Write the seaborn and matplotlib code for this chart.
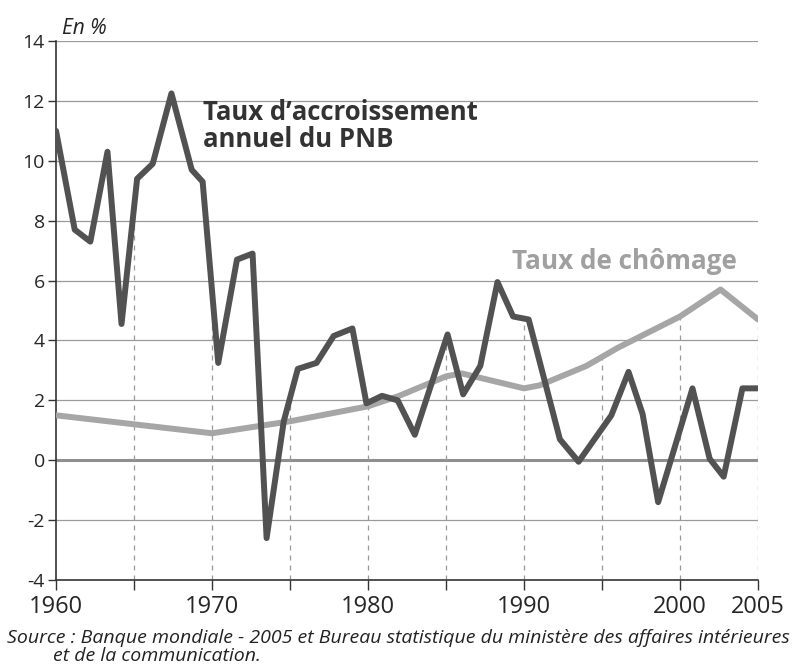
import numpy as np
import pandas as pd
import seaborn as sns
import matplotlib.pyplot as plt

# Taux d'accroissement annuel du PNB (en %)
pnb_years = [1960.0, 1961.2, 1962.2, 1963.3, 1964.2, 1965.2, 1966.2, 1967.4, 1968.7, 1969.4,
             1970.4, 1971.6, 1972.6, 1973.5, 1974.6, 1975.5, 1976.7, 1977.8, 1979.0, 1979.9,
             1980.9, 1981.9, 1983.0, 1985.1, 1986.1, 1987.2, 1988.3, 1989.3, 1990.3, 1992.3,
             1993.5, 1995.6, 1996.7, 1997.6, 1998.6, 2000.8, 2001.9, 2002.8, 2004.0, 2005.0]
pnb_values = [11.0, 7.7, 7.3, 10.3, 4.55, 9.4, 9.9, 12.25, 9.7, 9.3,
              3.25, 6.7, 6.9, -2.6, 1.3, 3.05, 3.25, 4.15, 4.4, 1.9,
              2.15, 2.0, 0.85, 4.2, 2.2, 3.15, 5.95, 4.8, 4.7, 0.7,
              -0.05, 1.5, 2.95, 1.55, -1.4, 2.4, 0.05, -0.55, 2.4, 2.4]

# Taux de chômage (en %)
chom_years = [1960, 1965, 1970, 1975, 1980, 1982, 1985, 1986, 1990, 1991,
              1994, 1996, 2000, 2002.6, 2005]
chom_values = [1.5, 1.2, 0.9, 1.3, 1.8, 2.15, 2.8, 2.9, 2.4, 2.5,
               3.15, 3.75, 4.8, 5.7, 4.7]

x_labels = ['1960', '1970', '1980', '1990', '2000', '2005']
y_labels = ['-4', '-2', '0', '2', '4', '6', '8', '10', '12', '14']

pnb = pd.DataFrame({'Année': pnb_years, 'Taux': pnb_values})
chom = pd.DataFrame({'Année': chom_years, 'Taux': chom_values})

sns.set_style("white")
plt.rcParams['font.family'] = ['Open Sans', 'DejaVu Sans']
plt.rcParams['axes.unicode_minus'] = False

fig = plt.figure(figsize=(8.01, 6.72), dpi=100)
ax = fig.add_axes([56 / 801, 92 / 672, 702 / 801, 539 / 672])

# grille horizontale et ligne du zéro
for y in [-2, 2, 4, 6, 8, 10, 12, 14]:
    ax.axhline(y, color='#9a9a9a', lw=0.9, zorder=1)
ax.axhline(0, color='#8f8f8f', lw=2.2, zorder=1)

# traits verticaux en pointillés jusqu'aux courbes
guides = np.arange(1965, 2006, 5)
tops = np.maximum(np.interp(guides, pnb_years, pnb_values),
                  np.interp(guides, chom_years, chom_values))
ax.vlines(guides, -4, tops, colors='#9a9a9a', lw=0.9,
          linestyles=(0, (4, 4)), zorder=1)

sns.lineplot(data=chom, x='Année', y='Taux', ax=ax, color='#a6a6a6',
             lw=4.3, zorder=3, sort=False)
sns.lineplot(data=pnb, x='Année', y='Taux', ax=ax, color='#525252',
             lw=4.3, zorder=4, sort=False)

ax.set_xlim(1960, 2005)
ax.set_ylim(-4, 14)
ax.set_xticks([int(v) for v in x_labels])
ax.set_xticklabels(x_labels, fontsize=17)
ax.set_xticks([1965, 1975, 1985, 1995], minor=True)
ax.set_yticks([int(v) for v in y_labels])
ax.set_yticklabels(y_labels, fontsize=14)
ax.tick_params(axis='x', which='both', direction='out', length=7, width=1,
               color='#333333', pad=4, bottom=True)
ax.tick_params(axis='y', direction='out', length=6, width=1,
               color='#333333', pad=2, left=True)
ax.set_xlabel('')
ax.set_ylabel('')

sns.despine(ax=ax)
for side in ['left', 'bottom']:
    ax.spines[side].set_color('#333333')
    ax.spines[side].set_linewidth(1.2)

ax.text(1969.4, 12.05, "Taux d\u2019accroissement\nannuel du PNB", fontsize=18.5,
        fontweight='bold', color='#333333', va='top', ha='left',
        linespacing=0.98, zorder=5)
ax.text(1989.2, 6.4, "Taux de chômage", fontsize=18.8, fontweight='bold',
        color='#a0a0a0', va='baseline', ha='left', zorder=5)

fig.text(62 / 801, 1 - 34 / 672, 'En %', fontsize=15, style='italic',
         color='#222222', va='baseline')
fig.text(7 / 801, 1 - 643 / 672,
         'Source : Banque mondiale - 2005 et Bureau statistique du ministère des affaires intérieures',
         fontsize=14, style='italic', color='#222222', va='baseline')
fig.text(53 / 801, 1 - 661 / 672, 'et de la communication.',
         fontsize=14, style='italic', color='#222222', va='baseline')

fig.savefig('out.png', dpi=100)
